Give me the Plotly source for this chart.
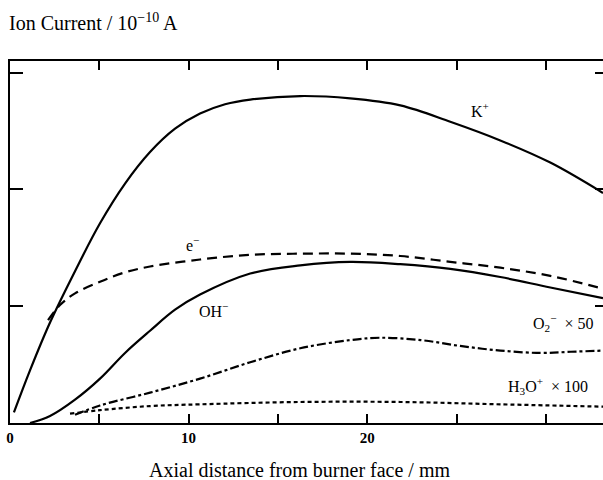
import plotly.graph_objects as go

# Axial distance (mm) and ion currents (10^-10 A)
k_x = [0.22, 1.12, 2.24, 3.64, 5.04, 6.44, 7.84, 9.24, 10.64, 12.04, 13.45, 16.25, 19.05, 21.85, 24.65, 27.45, 30.25, 33.2]
k_y = [0.09, 0.45, 0.86, 1.30, 1.71, 2.05, 2.32, 2.52, 2.65, 2.73, 2.77, 2.80, 2.78, 2.72, 2.58, 2.42, 2.23, 1.97]

e_x = [2.13, 2.80, 3.64, 5.04, 6.44, 7.84, 10.64, 13.45, 16.25, 19.05, 21.85, 24.65, 27.45, 30.25, 33.2]
e_y = [0.88, 1.01, 1.11, 1.21, 1.29, 1.34, 1.40, 1.44, 1.45, 1.45, 1.43, 1.38, 1.33, 1.26, 1.15]

oh_x = [1.12, 2.24, 3.64, 5.04, 6.44, 7.84, 9.24, 10.64, 13.45, 16.25, 19.05, 21.85, 24.65, 27.45, 30.25, 33.2]
oh_y = [0.0, 0.06, 0.20, 0.38, 0.60, 0.79, 0.97, 1.10, 1.28, 1.35, 1.38, 1.36, 1.32, 1.25, 1.16, 1.07]

o2_x = [3.64, 5.04, 7.84, 10.64, 13.45, 16.25, 19.05, 20.7, 23.0, 25.2, 27.45, 29.7, 31.4, 33.2]
o2_y = [0.07, 0.15, 0.26, 0.38, 0.52, 0.64, 0.71, 0.73, 0.71, 0.66, 0.62, 0.60, 0.61, 0.62]

h3o_x = [3.36, 5.04, 7.84, 10.64, 16.25, 21.85, 27.45, 33.2]
h3o_y = [0.08, 0.11, 0.145, 0.16, 0.18, 0.18, 0.16, 0.14]

x_ticks = [0, 5, 10, 15, 20, 25, 30]
x_tick_text = ["0", "", "10", "", "20", "", ""]
y_ticks = [1, 2, 3]

FONT = "Liberation Serif"
fig = go.Figure()

def add(x, y, dash):
    fig.add_trace(go.Scatter(x=x, y=y, mode="lines",
                             line=dict(color="black", width=2.2, dash=dash, shape="spline", smoothing=1.0),
                             showlegend=False, hoverinfo="skip"))

add(k_x, k_y, "solid")
add(e_x, e_y, "10px,6px")
add(oh_x, oh_y, "solid")
add(o2_x, o2_y, "dashdot")
add(h3o_x, h3o_y, "4px,3px")

labels = [
    (26.3, 2.68, "K<sup>+</sup>"),
    (10.2, 1.53, "e<sup>−</sup>"),
    (11.4, 0.97, "OH<sup>−</sup>"),
    (31.0, 0.86, "O<sub>2</sub><sup>−</sup>  × 50"),
    (30.1, 0.32, "H<sub>3</sub>O<sup>+</sup>  × 100"),
]
for x, y, t in labels:
    fig.add_annotation(x=x, y=y, text=t, showarrow=False, font=dict(family=FONT, size=16, color="black"))

fig.add_annotation(xref="paper", yref="paper", x=-0.005, y=1.0, yshift=39, xanchor="left", yanchor="middle",
                   text="Ion Current / 10<sup>−10</sup> A", showarrow=False,
                   font=dict(family=FONT, size=20, color="black"))
fig.add_annotation(xref="x", yref="paper", x=16.2, y=0, yshift=-47, xanchor="center", yanchor="middle",
                   text="Axial distance from burner face / mm", showarrow=False,
                   font=dict(family=FONT, size=20, color="black"))

fig.update_layout(
    width=603, height=480,
    margin=dict(l=10, r=0, t=61, b=57),
    plot_bgcolor="white", paper_bgcolor="white",
    xaxis=dict(range=[0, 33.2], tickvals=x_ticks, ticktext=x_tick_text, ticks="inside", ticklen=9,
               tickwidth=2, tickcolor="black", showline=True, linecolor="black", linewidth=2, mirror="ticks",
               showgrid=False, zeroline=False,
               tickfont=dict(family=FONT, size=15, color="black", weight="bold")),
    yaxis=dict(range=[0, 3.1], tickvals=y_ticks, ticks="inside", ticklen=13, tickwidth=2, tickcolor="black",
               showline=True, linecolor="black", linewidth=2, showgrid=False, zeroline=False,
               showticklabels=False),
    yaxis2=dict(range=[0, 3.1], overlaying="y", side="right", tickvals=y_ticks, ticks="inside", ticklen=8,
                tickwidth=2, tickcolor="black", showline=False, showgrid=False, zeroline=False,
                showticklabels=False),
)
fig.add_trace(go.Scatter(x=[None], y=[None], yaxis="y2", showlegend=False, hoverinfo="skip"))

fig.write_html("out.html")
